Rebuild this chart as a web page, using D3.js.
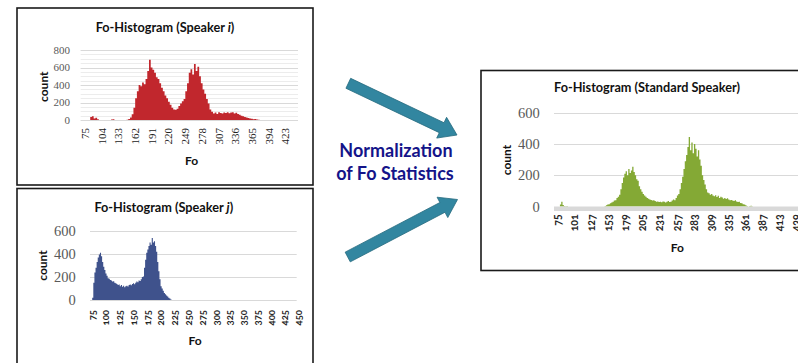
<!DOCTYPE html>
<html>
<head>
<meta charset="utf-8">
<script src="https://cdn.jsdelivr.net/npm/d3@7"></script>
<style>
    body { margin: 0; background: #fff; }
    svg { display: block; }
    .title { font-family: Lato, "Open Sans", sans-serif; font-weight: bold; font-size: 12.7px; fill: #111; }
    .axtitle { font-family: Lato, "Open Sans", sans-serif; font-weight: bold; font-size: 12px; fill: #111; }
    .ylab { font-family: "Liberation Serif", serif; fill: #595959; }
    .xlab-serif { font-family: "Liberation Serif", serif; font-size: 11px; fill: #222; }
    .xlab-sans { font-family: Lato, sans-serif; font-weight: bold; fill: #262626; font-variant-numeric: oldstyle-nums; }
    .note { font-family: Lato, "Open Sans", sans-serif; font-weight: bold; font-size: 18px; fill: #141489; }
</style>
</head>
<body>
<div id="chart"></div>
<script>
// ---- data (counts per Fo bin) ----

// Speaker i: bins of 3 Hz starting at 75 Hz
var fo_i_start = 75, fo_i_step = 3;
var counts_i = [
    0, 0, 0, 35, 42, 18, 25, 8, 0, 0,
    0, 0, 0, 0, 0, 6, 10, 0, 0, 0,
    0, 0, 0, 0, 4, 12, 30, 65, 140, 250,
    330, 400, 385, 430, 410, 470, 560, 690, 600, 575,
    540, 490, 470, 420, 370, 330, 280, 250, 210, 175,
    140, 120, 118, 130, 160, 190, 215, 240, 330, 420,
    540, 580, 520, 640, 560, 610, 500, 420, 350, 300,
    240, 190, 120, 95, 75, 85, 70, 90, 80, 75,
    85, 80, 90, 78, 85, 90, 75, 82, 70, 60,
    50, 42, 35, 30, 22, 18, 15, 10, 12, 6,
    3, 0
];
var xticks_i = [75, 104, 133, 162, 191, 220, 249, 278, 307, 336, 365, 394, 423];
var yticks_i = [0, 200, 400, 600, 800];

// Speaker j: bins of 2 Hz starting at 75 Hz
var fo_j_start = 75, fo_j_step = 2;
var counts_j = [
    20, 150, 240, 280, 330, 370, 395, 410, 380, 330,
    290, 260, 230, 210, 190, 185, 175, 170, 160, 162,
    150, 145, 140, 130, 135, 120, 130, 115, 125, 110,
    120, 125, 118, 130, 135, 128, 140, 145, 138, 150,
    160, 155, 170, 165, 180, 200, 205, 280, 350, 410,
    440, 470, 500, 480, 540, 500, 510, 470, 420, 330,
    250, 180, 120, 100, 80, 60, 50, 40, 30, 20,
    12, 5, 0
];
var xticks_j = [75, 100, 125, 150, 175, 200, 225, 250, 275, 300, 325, 350, 375, 400, 425, 450];
var yticks_j = [0, 200, 400, 600];

// Standard speaker: bins of 2 Hz starting at 75 Hz
var fo_s_start = 75, fo_s_step = 2;
var counts_s = [
    0, 0, 12, 30, 10, 4, 2, 3, 0, 0,
    0, 0, 0, 0, 0, 0, 0, 0, 0, 0,
    0, 0, 0, 0, 0, 0, 0, 0, 0, 0,
    0, 0, 0, 0, 0, 0, 4, 8, 12, 15,
    20, 25, 30, 38, 40, 55, 62, 75, 110, 150,
    185, 210, 225, 200, 240, 215, 230, 255, 220, 200,
    175, 165, 130, 110, 95, 80, 70, 62, 55, 50,
    45, 42, 38, 40, 35, 30, 32, 28, 30, 27,
    32, 30, 25, 30, 35, 28, 30, 38, 45, 40,
    55, 70, 80, 110, 150, 190, 240, 290, 330, 380,
    445, 360, 410, 340, 400, 370, 320, 360, 300, 260,
    200, 170, 140, 110, 90, 85, 75, 80, 70, 65,
    72, 60, 68, 55, 62, 58, 50, 55, 48, 52,
    45, 40, 42, 38, 35, 40, 32, 28, 30, 22,
    20, 15, 12, 8, 4, 0, 3, 5, 2, 0
];
var xticks_s = [75, 101, 127, 153, 179, 205, 231, 257, 283, 309, 335, 361, 387, 413, 439];
var yticks_s = [0, 200, 400, 600];

// ---- drawing ----
var svg = d3.select("#chart").append("svg")
    .attr("width", 798)
    .attr("height", 363);

function drawPanel(p) {
    var g = svg.append("g");

    // frame
    g.append("rect")
        .attr("x", p.box[0]).attr("y", p.box[1])
        .attr("width", p.box[2]).attr("height", p.box[3])
        .attr("fill", "#fff")
        .attr("stroke", "#1a1a1a")
        .attr("stroke-width", 1.6);

    var x = d3.scaleLinear().domain(p.xdom).range(p.xrange);
    var y = d3.scaleLinear().domain(p.ydom).range(p.yrange);

    // minor grid (only speaker i chart has it)
    if (p.minorStep) {
        g.selectAll("line.minor")
            .data(d3.range(p.ydom[0], p.ydom[1] + 1, p.minorStep))
            .enter().append("line")
            .attr("x1", p.xrange[0]).attr("x2", p.gridEnd)
            .attr("y1", function(d) { return Math.round(y(d)) + 0.5; })
            .attr("y2", function(d) { return Math.round(y(d)) + 0.5; })
            .attr("stroke", "#ececec");
    }

    g.selectAll("line.major")
        .data(p.yticks)
        .enter().append("line")
        .attr("x1", p.xrange[0]).attr("x2", p.gridEnd)
        .attr("y1", function(d) { return Math.round(y(d)) + 0.5; })
        .attr("y2", function(d) { return Math.round(y(d)) + 0.5; })
        .attr("stroke", "#d9d9d9");

    var area = d3.area()
        .x(function(d, i) { return x(p.start + i * p.step); })
        .y0(y(0))
        .y1(function(d) { return y(d); })
        .curve(d3.curveStepAfter);

    g.append("path")
        .datum(p.counts)
        .attr("d", area)
        .attr("fill", p.color);

    if (p.band) {
        g.append("rect")
            .attr("x", p.xrange[0]).attr("y", y(0))
            .attr("width", p.gridEnd - p.xrange[0]).attr("height", 4.5)
            .attr("fill", "#d9d9d9");
    }

    // y labels
    g.selectAll("text.ylab")
        .data(p.yticks)
        .enter().append("text")
        .attr("class", "ylab")
        .attr("x", p.ylabX)
        .attr("y", function(d) { return y(d); })
        .attr("dy", "0.35em")
        .attr("text-anchor", "end")
        .style("font-size", p.ylabSize + "px")
        .text(function(d) { return d; });

    // x labels, rotated
    g.selectAll("text.xlab")
        .data(p.xticks)
        .enter().append("text")
        .attr("class", p.xlabClass)
        .attr("transform", function(d) { return "translate(" + x(d) + "," + p.xlabY + ") rotate(-90)"; })
        .attr("dy", "0.35em")
        .attr("text-anchor", "end")
        .style("font-size", p.xlabSize + "px")
        .text(function(d) { return d; });

    // titles
    var t = g.append("text")
        .attr("class", "title")
        .attr("x", p.titlePos[0]).attr("y", p.titlePos[1])
        .attr("text-anchor", "middle");
    t.append("tspan").text(p.title[0]);
    if (p.title[1]) {
        t.append("tspan").style("font-style", "italic").text(p.title[1]);
        t.append("tspan").text(p.title[2]);
    }

    g.append("text")
        .attr("class", "axtitle")
        .attr("transform", "translate(" + p.countPos[0] + "," + p.countPos[1] + ") rotate(-90)")
        .attr("dy", "0.35em")
        .attr("text-anchor", "middle")
        .text("count");

    g.append("text")
        .attr("class", "axtitle")
        .attr("x", p.foPos[0]).attr("y", p.foPos[1])
        .attr("text-anchor", "middle")
        .text("Fo");
}

drawPanel({
    box: [17, 8, 296, 177],
    counts: counts_i, start: fo_i_start, step: fo_i_step,
    xdom: [67.5, 444.5], xrange: [80.7, 298], gridEnd: 298,
    ydom: [0, 800], yrange: [120, 50], minorStep: 50,
    yticks: yticks_i, xticks: xticks_i,
    color: "#c1272d",
    ylabX: 70, ylabSize: 11,
    xlabY: 128, xlabSize: 11, xlabClass: "xlab-serif",
    title: ["Fo-Histogram (Speaker ", "i", ")"], titlePos: [165, 32],
    countPos: [43.7, 86.7], foPos: [191.7, 165]
});

drawPanel({
    box: [17, 188.5, 296, 190],
    counts: counts_j, start: fo_j_start, step: fo_j_step,
    xdom: [71, 446], xrange: [90, 296.7], gridEnd: 296.7,
    ydom: [0, 600], yrange: [300, 231],
    yticks: yticks_j, xticks: xticks_j,
    color: "#3f528c",
    ylabX: 75.7, ylabSize: 14.5,
    xlabY: 310, xlabSize: 9.5, xlabClass: "xlab-sans",
    title: ["Fo-Histogram (Speaker ", "j", ")"], titlePos: [163.8, 212],
    countPos: [42.7, 265.5], foPos: [195, 345]
});

drawPanel({
    box: [481, 70.5, 340, 200],
    counts: counts_s, start: fo_s_start, step: fo_s_step,
    xdom: [70, 450], xrange: [554, 803.7], gridEnd: 800,
    ydom: [0, 600], yrange: [206.5, 112.7], band: true,
    yticks: yticks_s, xticks: xticks_s,
    color: "#84a935",
    ylabX: 539.7, ylabSize: 14.5,
    xlabY: 214.3, xlabSize: 10.5, xlabClass: "xlab-sans",
    title: ["Fo-Histogram (Standard Speaker)"], titlePos: [647, 92],
    countPos: [506.7, 160], foPos: [677.3, 251.7]
});

// ---- arrows between the charts ----
function arrow(tail, tip, shaftW, headW, headL) {
    var dx = tip[0] - tail[0], dy = tip[1] - tail[1];
    var len = Math.sqrt(dx * dx + dy * dy);
    var ux = dx / len, uy = dy / len, nx = -uy, ny = ux;
    var bx = tip[0] - ux * headL, by = tip[1] - uy * headL;
    var pts = [
        [tail[0] + nx * shaftW / 2, tail[1] + ny * shaftW / 2],
        [bx + nx * shaftW / 2, by + ny * shaftW / 2],
        [bx + nx * headW / 2, by + ny * headW / 2],
        tip,
        [bx - nx * headW / 2, by - ny * headW / 2],
        [bx - nx * shaftW / 2, by - ny * shaftW / 2],
        [tail[0] - nx * shaftW / 2, tail[1] - ny * shaftW / 2]
    ];
    svg.append("path")
        .attr("d", d3.line()(pts) + "Z")
        .attr("fill", "#3286a0")
        .attr("stroke", "#256a7e")
        .attr("stroke-width", 0.8);
}
arrow([348.3, 83.3], [457, 135], 11, 23, 17);
arrow([347.7, 257], [457.5, 199.5], 11, 23, 17);

svg.append("text").attr("class", "note")
    .attr("x", 396).attr("y", 157)
    .attr("text-anchor", "middle")
    .text("Normalization");
svg.append("text").attr("class", "note")
    .attr("x", 395).attr("y", 179.5)
    .attr("text-anchor", "middle")
    .text("of Fo Statistics");
</script>
</body>
</html>
